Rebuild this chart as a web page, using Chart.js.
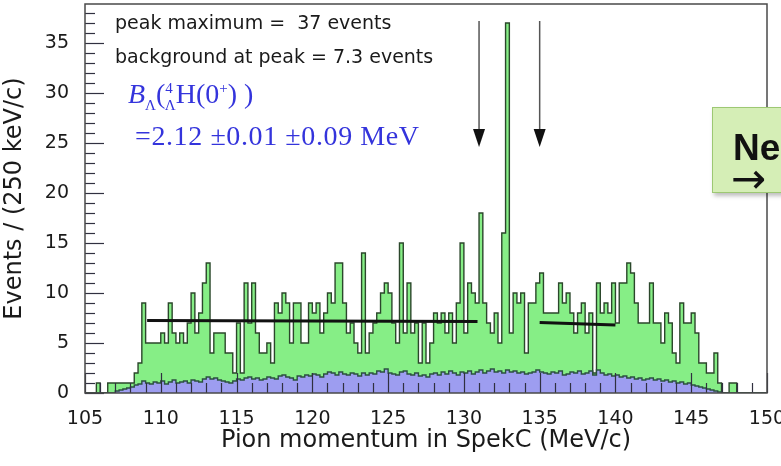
<!DOCTYPE html>
<html>
<head>
<meta charset="utf-8">
<script src="https://cdn.jsdelivr.net/npm/chart.js@4.4.1/dist/chart.umd.min.js"></script>
<style>
  html, body { margin: 0; padding: 0; background: #fff; }
  #wrap { position: relative; width: 781px; height: 466px; overflow: hidden; }
  #chart { position: absolute; left: 0; top: 0; }
  .note { position: absolute; font-family: "DejaVu Sans", sans-serif; font-size: 19px; line-height: 19px; color: #1a1a1a; white-space: nowrap; }
  .ba { position: absolute; font-family: "Liberation Serif", "Times New Roman", serif; font-size: 28px; line-height: 28px; color: #3434dc; white-space: nowrap; }
  .ba sub, .ba sup { font-size: 15px; line-height: 0; }
  .box { position: absolute; left: 712px; top: 107px; width: 120px; height: 84px; background: #d5eeb6; border: 1.5px solid #9dc873; box-shadow: 2px 3px 4px rgba(0,0,0,0.25); }
  .boxtxt { position: absolute; left: 733px; font-family: "Liberation Sans", Arial, sans-serif; font-weight: bold; font-size: 37px; line-height: 37px; color: #111; white-space: nowrap; }
  .boxarrow { position: absolute; left: 731px; font-family: "DejaVu Sans", sans-serif; font-size: 42px; line-height: 42px; color: #111; }
</style>
</head>
<body>
<div id="wrap">
  <canvas id="chart" width="781" height="466"></canvas>
  <div class="note" style="left:115px; top:13px;">peak maximum =&nbsp; 37 events</div>
  <div class="note" style="left:115px; top:47px;">background at peak = 7.3 events</div>
  <div class="ba" style="left:128px; top:80px;"><i>B</i><sub>Λ</sub>(<sup>4</sup><sub style="margin-left:-8px">Λ</sub>H(0<sup>+</sup>) )</div>
  <div class="ba" style="left:135px; top:122px; letter-spacing:0.6px;">=2.12 ±0.01 ±0.09 MeV</div>
  <div class="box"></div>
  <div class="boxtxt" style="top:129px;">Ne</div>
  <div class="boxarrow" style="top:158px;">→</div>
</div>
<script>
// histogram binning: 250 keV/c bins from 105 MeV/c
const binStart = 105;
const binWidth = 0.25;

// events per bin (green), 105 -> 150 MeV/c
const eventCounts = [
  0,0,0,1,0,0,1,1,1,1, 1,1,1,2,3,9,5,5,5,5,
  6,5,9,6,5,6,5,7,10,6, 8,11,13,4,6,6,6,4,4,2,
  7,2,11,7,11,6,4,4,5,3, 9,8,10,9,5,9,9,5,5,9,
  8,9,6,8,10,9,13,13,9,6, 7,5,4,14,4,6,7,8,10,11,
  10,7,5,15,6,11,6,7,3,7, 3,5,8,7,8,6,8,5,9,15,
  6,11,10,9,18,9,7,6,8,5, 16,37,6,10,9,10,4,9,9,11,
  12,8,8,8,8,11,9,10,8,6, 8,9,6,8,2,11,8,9,8,11,
  7,11,11,13,12,9,7,7,7,11, 7,7,5,8,7,4,3,9,7,7,
  8,6,3,3,2,2,4,1,0,0, 1,1,0,0,0,0,0,0,0,0
];

// background estimate per bin (blue)
const bgCounts = [
  0,0,0,0,0,0,0,0,0.2,0.3, 0.4,0.5,0.6,0.8,0.9,1.2,1.0,0.9,1.1,1.0,
  1.2,0.9,1.1,1.3,1.0,1.1,1.2,1.0,1.3,1.2, 1.1,1.4,1.6,1.4,1.5,1.3,1.2,1.1,1.0,1.2,
  1.4,1.3,1.5,1.6,1.4,1.5,1.3,1.4,1.6,1.5, 1.4,1.7,1.8,1.6,1.5,1.3,1.7,1.6,1.8,1.7,
  1.9,1.8,1.6,1.9,2.1,2.0,1.8,2.1,1.9,1.8, 2.0,1.9,1.7,2.0,1.8,2.0,1.9,2.2,2.1,2.4,
  2.0,1.9,1.8,2.1,2.2,1.9,1.8,2.0,1.7,1.8, 1.6,1.9,2.0,1.8,2.1,1.9,2.2,2.0,1.8,2.1,
  2.0,2.2,1.9,2.1,2.3,2.0,2.2,2.4,2.1,2.2, 2.0,2.3,2.1,2.2,2.0,2.1,1.9,2.0,2.1,2.3,
  2.1,2.0,1.9,2.1,2.0,2.2,1.8,1.9,2.1,2.0, 2.2,1.9,2.0,2.2,1.8,2.3,2.0,1.8,1.9,1.7,
  1.8,1.6,1.7,1.5,1.6,1.4,1.5,1.3,1.4,1.5, 1.3,1.4,1.2,1.3,1.1,1.2,1.0,1.1,0.9,1.0,
  0.8,0.7,0.6,0.5,0.4,0.3,0.2,0.1,0,0, 0,0,0,0,0,0,0,0,0,0
];

// background fits (momentum, events)
const fitLowX = [109.1, 130.9];
const fitLowY = [7.25, 7.15];
const fitHighX = [135.0, 140.0];
const fitHighY = [7.05, 6.8];

// signal window arrows (MeV/c)
const arrowMomenta = [131, 135];

const xTicks = [105, 110, 115, 120, 125, 130, 135, 140, 145, 150];
const yTicks = [0, 5, 10, 15, 20, 25, 30, 35];

function histPoints(counts) {
  const pts = counts.map((c, k) => ({ x: binStart + k * binWidth, y: c }));
  pts.push({ x: binStart + counts.length * binWidth, y: 0 });
  return pts;
}
function linePoints(xs, ys) { return xs.map((v, i) => ({ x: v, y: ys[i] })); }

// no label overhang padding: keep the plot frame where the reference has it
function noOverhang(s) {
  s.paddingLeft = 0; s.paddingRight = 0; s.paddingTop = 0; s.paddingBottom = 0;
}

const rootFrame = {
  id: 'rootFrame',
  afterDatasetsDraw(chart) {
    const { ctx, chartArea: a, scales: { x, y } } = chart;
    ctx.save();
    ctx.strokeStyle = '#303040';
    ctx.lineWidth = 1.2;
    for (let v = xTicks[0]; v <= xTicks[xTicks.length - 1]; v += 1) {
      const px = Math.round(x.getPixelForValue(v)) + 0.5;
      const len = xTicks.includes(v) ? 20 : 10;
      ctx.beginPath(); ctx.moveTo(px, a.bottom); ctx.lineTo(px, a.bottom - len); ctx.stroke();
    }
    for (let v = 0; v <= 38; v += 1) {
      const py = Math.round(y.getPixelForValue(v)) + 0.5;
      const len = yTicks.includes(v) ? 19 : 10;
      ctx.beginPath(); ctx.moveTo(a.left, py); ctx.lineTo(a.left + len, py); ctx.stroke();
    }
    ctx.strokeStyle = '#4a4a4a';
    ctx.lineWidth = 1.5;
    ctx.strokeRect(a.left, a.top, a.right - a.left, a.bottom - a.top);

    // arrows marking the window
    arrowMomenta.forEach(m => {
      const px = x.getPixelForValue(m);
      const top = y.getPixelForValue(37.2), base = y.getPixelForValue(26.4), tip = y.getPixelForValue(24.6);
      ctx.strokeStyle = '#555';
      ctx.lineWidth = 1.5;
      ctx.beginPath(); ctx.moveTo(px, top); ctx.lineTo(px, base); ctx.stroke();
      ctx.fillStyle = '#111';
      ctx.beginPath(); ctx.moveTo(px - 6, base); ctx.lineTo(px + 6, base); ctx.lineTo(px, tip); ctx.closePath(); ctx.fill();
    });
    ctx.restore();
  }
};

const tickFont = { family: 'DejaVu Sans', size: 19 };
const titleFont = { family: 'DejaVu Sans', size: 24 };

new Chart(document.getElementById('chart').getContext('2d'), {
  type: 'line',
  data: {
    datasets: [
      { label: 'fit low', data: linePoints(fitLowX, fitLowY), borderColor: '#111', borderWidth: 3, pointRadius: 0, fill: false, order: 0 },
      { label: 'fit high', data: linePoints(fitHighX, fitHighY), borderColor: '#111', borderWidth: 3, pointRadius: 0, fill: false, order: 0 },
      { label: 'background', data: histPoints(bgCounts), stepped: 'before', fill: 'origin', backgroundColor: '#9d9df0', borderColor: '#2c5040', borderWidth: 1.4, pointRadius: 0, order: 1 },
      { label: 'events', data: histPoints(eventCounts), stepped: 'before', fill: 'origin', backgroundColor: '#86ee86', borderColor: '#2b472b', borderWidth: 1.4, pointRadius: 0, order: 2 }
    ]
  },
  options: {
    responsive: false,
    animation: false,
    devicePixelRatio: 1,
    layout: { padding: { top: 4, right: 14, left: 0, bottom: 0 } },
    plugins: { legend: { display: false }, tooltip: { enabled: false } },
    scales: {
      x: {
        type: 'linear', min: 105, max: 150,
        grid: { display: false }, border: { display: false },
        afterBuildTicks: s => { s.ticks = xTicks.map(v => ({ value: v })); },
        ticks: { autoSkip: false, maxRotation: 0, padding: 7, color: '#1a1a1a', font: tickFont },
        title: { display: true, text: 'Pion momentum in SpekC (MeV/c)', color: '#1a1a1a', font: titleFont, padding: { top: 0, bottom: 11 } },
        afterFit: s => { s.height = 73; noOverhang(s); }
      },
      y: {
        min: 0, max: 38.9,
        grid: { display: false }, border: { display: false },
        afterBuildTicks: s => { s.ticks = yTicks.map(v => ({ value: v })); },
        ticks: { autoSkip: false, padding: 8, color: '#1a1a1a', font: tickFont },
        title: { display: true, text: 'Events / (250 keV/c)', color: '#1a1a1a', font: titleFont, padding: { top: 0, bottom: 0 } },
        afterFit: s => { s.width = 85; noOverhang(s); }
      }
    }
  },
  plugins: [rootFrame]
});
</script>
</body>
</html>
